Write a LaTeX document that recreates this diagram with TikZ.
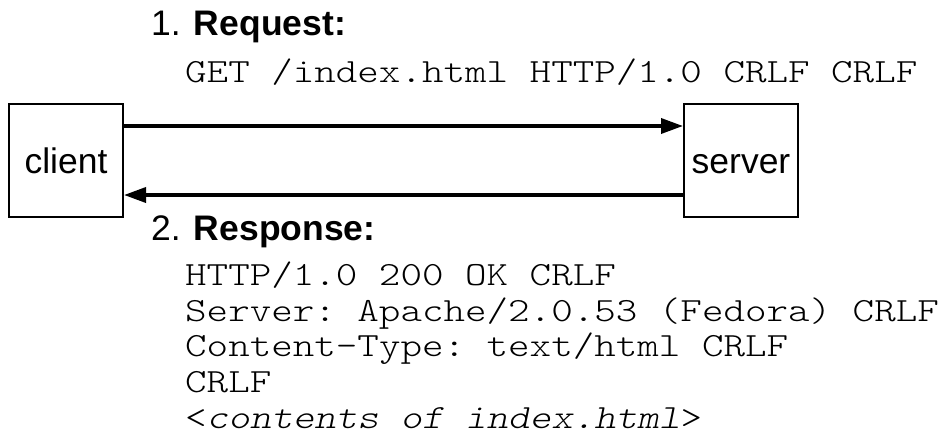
\documentclass[tikz,border=0pt]{standalone}
\usepackage{fontspec}
\setmainfont{Liberation Sans}
\setmonofont[FakeStretch=1.21]{Latin Modern Mono Light}
\usetikzlibrary{arrows.meta,calc}
\tikzset{
  hostbox/.style={draw=black, line width=2pt, fill=white, minimum width=114pt, minimum height=113pt,
    inner sep=0pt, text height=25pt, text depth=0pt, font=\fontsize{35.5}{36}\selectfont},
  msg/.style={line width=3.5pt, -{Triangle[length=22pt,width=15pt]}},
  head/.style={anchor=base west, inner sep=0pt, font=\fontsize{35.5}{36}\selectfont},
  code/.style={anchor=base west, inner sep=0pt, font=\fontsize{33.9}{36}\selectfont\ttfamily}
}
\begin{document}
\begin{tikzpicture}[x=1pt,y=-1pt]
\useasboundingbox (0,0) rectangle (943,434);
\node[hostbox] (client) at (66,160.5) {client};
\node[hostbox] (server) at (741,160.5) {server};
\draw[msg] ($(client.north east)!0.2!(client.south east)$) -- ($(server.north west)!0.2!(server.south west)$);
\draw[msg] ($(server.north west)!0.8!(server.south west)$) -- ($(client.north east)!0.8!(client.south east)$);
\node[head] (req) at (151,35.5) {1. \textbf{Request:}};
\node[code] (get) at (185,82) {GET /index.html HTTP/1.0 CRLF CRLF};
\node[head] (resp) at (151,240) {2. \textbf{Response:}};
\node[code] (l1) at (185,285.5) {HTTP/1.0 200 OK CRLF};
\node[code] (l2) at (185,321.2) {Server: Apache/2.0.53 (Fedora) CRLF};
\node[code] (l3) at (185,356.9) {Content-Type: text/html CRLF};
\node[code] (l4) at (185,392.6) {CRLF};
\node[code, text depth=0pt] (l5) at (185,428) {<\textit{contents of index.html}>};
\end{tikzpicture}
\end{document}
